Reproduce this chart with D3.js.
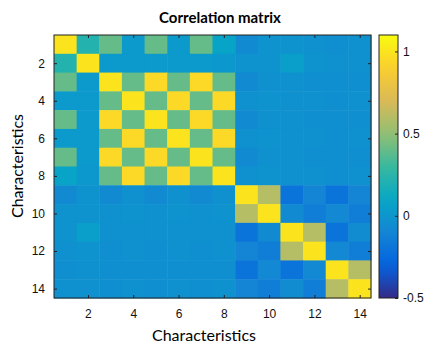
<!DOCTYPE html>
<html>
<head>
<meta charset="utf-8">
<script src="https://cdn.jsdelivr.net/npm/d3@7"></script>
<style>
  body { margin: 0; background: #fff; }
  svg { display: block; }
</style>
</head>
<body>
<svg id="chart" width="431" height="344"></svg>
<script>
// characteristics 1..14
const labels = d3.range(1, 15);
const tickLabels = [2, 4, 6, 8, 10, 12, 14];

// correlation values, row by row
const row1  = [1, 0.22, 0.4, 0.02, 0.4, 0.02, 0.4, 0.08, -0.07, -0.02, -0.02, -0.03, -0.04, -0.03];
const row2  = [0.22, 1, 0.02, 0.02, 0.02, 0.02, 0.02, 0.01, -0.02, -0.02, 0.05, -0.02, -0.03, -0.03];
const row3  = [0.4, 0.02, 1, 0.4, 0.95, 0.4, 0.95, 0.4, -0.07, -0.03, -0.03, -0.04, -0.04, -0.04];
const row4  = [0.02, 0.02, 0.4, 1, 0.4, 0.95, 0.4, 0.95, -0.03, -0.02, -0.03, -0.03, -0.04, -0.03];
const row5  = [0.4, 0.02, 0.95, 0.4, 1, 0.4, 0.95, 0.4, -0.07, -0.03, -0.03, -0.04, -0.04, -0.04];
const row6  = [0.02, 0.02, 0.4, 0.95, 0.4, 1, 0.4, 0.95, -0.03, -0.02, -0.03, -0.03, -0.04, -0.03];
const row7  = [0.4, 0.02, 0.95, 0.4, 0.95, 0.4, 1, 0.4, -0.07, -0.03, -0.03, -0.04, -0.04, -0.04];
const row8  = [0.08, 0.01, 0.4, 0.95, 0.4, 0.95, 0.4, 1, -0.03, -0.02, -0.03, -0.03, -0.04, -0.03];
const row9  = [-0.07, -0.02, -0.07, -0.03, -0.07, -0.03, -0.07, -0.03, 1, 0.6, -0.2, -0.1, -0.2, -0.1];
const row10 = [-0.02, -0.02, -0.03, -0.02, -0.03, -0.02, -0.03, -0.02, 0.6, 1, -0.07, -0.15, -0.08, -0.15];
const row11 = [-0.02, 0.05, -0.03, -0.03, -0.03, -0.03, -0.03, -0.03, -0.2, -0.07, 1, 0.6, -0.2, -0.06];
const row12 = [-0.03, -0.02, -0.04, -0.03, -0.04, -0.03, -0.04, -0.03, -0.1, -0.15, 0.6, 1, -0.08, -0.15];
const row13 = [-0.04, -0.03, -0.04, -0.04, -0.04, -0.04, -0.04, -0.04, -0.2, -0.08, -0.2, -0.08, 1, 0.6];
const row14 = [-0.03, -0.03, -0.04, -0.03, -0.04, -0.03, -0.04, -0.03, -0.1, -0.15, -0.06, -0.15, 0.6, 1];
const matrix = [row1, row2, row3, row4, row5, row6, row7, row8, row9, row10, row11, row12, row13, row14];

const colorTicks = [-0.5, 0, 0.5, 1];
const colorLimits = [-0.5, 1.1];

// parula-like colormap
const parula = ["#352a87", "#0363e1", "#1485d4", "#06a7c6", "#38b99e", "#92bf73", "#d9ba56", "#fcce2e", "#f9fb0e"];
const color = d3.scaleLinear()
  .domain(d3.range(parula.length).map(i => colorLimits[0] + i * (colorLimits[1] - colorLimits[0]) / (parula.length - 1)))
  .range(parula)
  .clamp(true);

const svg = d3.select('#chart');
const plot = { left: 54, right: 371, top: 35, bottom: 298 };

const x = d3.scaleBand().domain(labels).range([plot.left, plot.right]);
const y = d3.scaleBand().domain(labels).range([plot.top, plot.bottom]);

const cells = [];
matrix.forEach((row, i) => row.forEach((v, j) => cells.push({ r: labels[i], c: labels[j], v })));

svg.append('g')
  .selectAll('rect')
  .data(cells)
  .enter()
  .append('rect')
  .attr('x', d => x(d.c))
  .attr('y', d => y(d.r))
  .attr('width', x.bandwidth() + 0.5)
  .attr('height', y.bandwidth() + 0.5)
  .attr('fill', d => color(d.v));

// axes, ticks inside on all four sides
const axisFont = 'Liberation Sans, Arial, sans-serif';
const tx = d3.scalePoint().domain(labels).range([plot.left + x.bandwidth() / 2, plot.right - x.bandwidth() / 2]);
const ty = d3.scalePoint().domain(labels).range([plot.top + y.bandwidth() / 2, plot.bottom - y.bandwidth() / 2]);

function styleAxis(g) {
  g.select('.domain').remove();
  g.selectAll('line').attr('stroke', '#222');
  g.selectAll('text').attr('font-family', axisFont).attr('font-size', 12).attr('fill', '#111');
}

svg.append('g').attr('transform', `translate(0,${plot.bottom})`)
  .call(d3.axisBottom(tx).tickValues(tickLabels).tickSize(-3).tickPadding(11))
  .call(styleAxis);
svg.append('g').attr('transform', `translate(0,${plot.top})`)
  .call(d3.axisTop(tx).tickValues(tickLabels).tickSize(-3).tickFormat(''))
  .call(styleAxis);
svg.append('g').attr('transform', `translate(${plot.left},0)`)
  .call(d3.axisLeft(ty).tickValues(tickLabels).tickSize(-3).tickPadding(9))
  .call(styleAxis);
svg.append('g').attr('transform', `translate(${plot.right},0)`)
  .call(d3.axisRight(ty).tickValues(tickLabels).tickSize(-3).tickFormat(''))
  .call(styleAxis);

svg.append('rect')
  .attr('x', plot.left).attr('y', plot.top)
  .attr('width', plot.right - plot.left).attr('height', plot.bottom - plot.top)
  .attr('fill', 'none').attr('stroke', '#222').attr('stroke-width', 1);

// colorbar
const cb = { left: 379, right: 398 };
const cy = d3.scaleLinear().domain(colorLimits).range([plot.bottom, plot.top]);

const grad = svg.append('defs').append('linearGradient')
  .attr('id', 'cbar').attr('x1', 0).attr('y1', 1).attr('x2', 0).attr('y2', 0);
d3.range(0, 1.0001, 0.05).forEach(t => {
  grad.append('stop')
    .attr('offset', t)
    .attr('stop-color', color(colorLimits[0] + t * (colorLimits[1] - colorLimits[0])));
});

svg.append('rect')
  .attr('x', cb.left).attr('y', plot.top)
  .attr('width', cb.right - cb.left).attr('height', plot.bottom - plot.top)
  .attr('fill', 'url(#cbar)').attr('stroke', '#222');

svg.append('g').attr('transform', `translate(${cb.right},0)`)
  .call(d3.axisRight(cy).tickValues(colorTicks).tickSize(-3).tickPadding(5).tickFormat(d => String(d)))
  .call(styleAxis);

// titles
const labelFont = 'Lato, Liberation Sans, sans-serif';
svg.append('text')
  .attr('x', 220).attr('y', 23)
  .attr('text-anchor', 'middle')
  .attr('font-family', labelFont).attr('font-weight', 'bold').attr('font-size', 15)
  .text('Correlation matrix');

svg.append('text')
  .attr('x', 204).attr('y', 341)
  .attr('text-anchor', 'middle')
  .attr('font-family', labelFont).attr('font-size', 16)
  .text('Characteristics');

svg.append('text')
  .attr('transform', 'translate(23,166) rotate(-90)')
  .attr('text-anchor', 'middle')
  .attr('font-family', labelFont).attr('font-size', 16)
  .text('Characteristics');
</script>
</body>
</html>
